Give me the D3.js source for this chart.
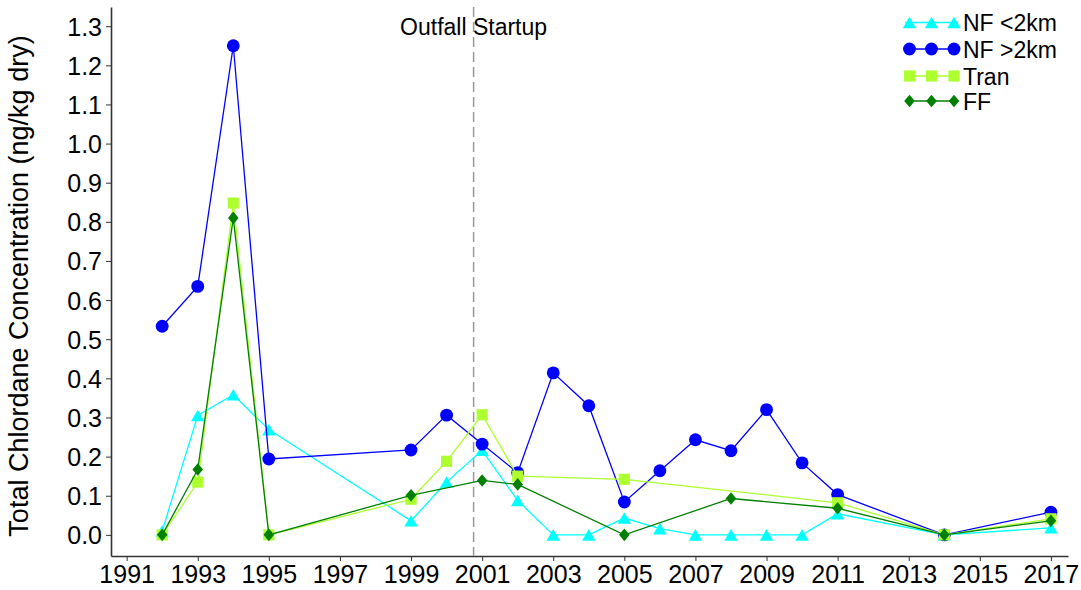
<!DOCTYPE html>
<html>
<head>
<meta charset="utf-8">
<script src="https://cdn.jsdelivr.net/npm/d3@7"></script>
<style>
  html, body { margin: 0; padding: 0; background: #fff; }
  svg { display: block; font-family: "Liberation Sans", Arial, sans-serif; }
</style>
</head>
<body>
<svg id="chart" width="1081" height="590"></svg>
<script>
// ---- data ----
const yearsNear = [1992,1993,1994,1995,1999,2000,2001,2002,2003,2004,2005,2006,2007,2008,2009,2010,2011,2014,2017];
const nfLt2km  = [0.01,0.305,0.358,0.269,0.036,0.135,0.216,0.088,0,0,0.043,0.016,0,0,0,0,0.054,0,0.018];
const nfGt2km  = [0.533,0.635,1.25,0.194,0.217,0.306,0.232,0.159,0.414,0.33,0.084,0.164,0.243,0.215,0.32,0.184,0.103,0,0.058];
const yearsTran = [1992,1993,1994,1995,1999,2000,2001,2002,2005,2011,2014,2017];
const tranVals  = [0,0.135,0.848,0,0.091,0.188,0.307,0.150,0.142,0.082,0,0.041];
const yearsFF = [1992,1993,1994,1995,1999,2001,2002,2005,2008,2011,2014,2017];
const ffVals  = [0,0.167,0.81,0,0.101,0.139,0.129,0,0.093,0.068,0,0.036];
const xTickYears = [1991,1993,1995,1997,1999,2001,2003,2005,2007,2009,2011,2013,2015,2017];
const yTickVals = [0,0.1,0.2,0.3,0.4,0.5,0.6,0.7,0.8,0.9,1.0,1.1,1.2,1.3];
const outfallYear = 2000.76;
const seriesNames = ["NF <2km","NF >2km","Tran","FF"];

const series = [
  {name: seriesNames[0], years: yearsNear, vals: nfLt2km, color: "#00FFFF", shape: "triangle"},
  {name: seriesNames[1], years: yearsNear, vals: nfGt2km, color: "#0000FF", shape: "circle"},
  {name: seriesNames[2], years: yearsTran, vals: tranVals, color: "#ADFF2F", shape: "square"},
  {name: seriesNames[3], years: yearsFF, vals: ffVals, color: "#008000", shape: "diamond"}
];

const svg = d3.select("#chart");
const x = d3.scaleLinear().domain([1990.56, 2017.48]).range([111, 1068]);
const y = d3.scaleLinear().domain([-0.054, 1.349]).range([556, 7]);

// axes
const xAxis = svg.append("g").attr("transform", "translate(0,556)")
  .call(d3.axisBottom(x).tickValues(xTickYears).tickFormat(d3.format("d")).tickSize(5).tickSizeOuter(0));
xAxis.selectAll("text").attr("font-size", 25).attr("fill", "#000").attr("dy", 0).attr("y", 27);
const yAxis = svg.append("g").attr("transform", "translate(111,0)")
  .call(d3.axisLeft(y).tickValues(yTickVals).tickFormat(d3.format(".1f")).tickSize(5).tickSizeOuter(0));
yAxis.selectAll("text").attr("font-size", 25).attr("fill", "#000").attr("x", -9).attr("dy", "0.36em");
svg.selectAll(".domain").attr("stroke", "#333").attr("stroke-width", 1.6);
svg.selectAll(".tick line").attr("stroke", "#333").attr("stroke-width", 1);

// axis title
svg.append("text")
  .attr("transform", `translate(28,286) rotate(-90)`)
  .attr("text-anchor", "middle").attr("font-size", 27).attr("fill", "#000")
  .text("Total Chlordane Concentration (ng/kg dry)");

// outfall line
svg.append("line")
  .attr("x1", x(outfallYear)).attr("x2", x(outfallYear))
  .attr("y1", y.range()[1]).attr("y2", y.range()[0])
  .attr("stroke", "#999").attr("stroke-width", 1.5).attr("stroke-dasharray", "10,5");
svg.append("text")
  .attr("x", x(outfallYear)).attr("y", 35).attr("text-anchor", "middle")
  .attr("font-size", 23).attr("fill", "#000").text("Outfall Startup");

// symbols
function symbolPath(shape) {
  switch (shape) {
    case "triangle": return d3.symbol().type(d3.symbolTriangle).size(78)();
    case "circle": return d3.symbol().type(d3.symbolCircle).size(130)();
    case "square": return d3.symbol().type(d3.symbolSquare).size(125)();
    case "diamond": return "M0,-6.3L5.3,0L0,6.3L-5.3,0Z";
  }
}
const triShift = 1.9;

const line = d3.line().x(d => x(d[0])).y(d => y(d[1]));
series.forEach(s => {
  const pts = s.years.map((yr, i) => [yr, s.vals[i]]);
  const g = svg.append("g");
  g.append("path").attr("d", line(pts)).attr("fill", "none")
    .attr("stroke", s.color).attr("stroke-width", 1.3);
  g.selectAll("path.m").data(pts).enter().append("path").attr("class", "m")
    .attr("d", symbolPath(s.shape))
    .attr("transform", d => `translate(${x(d[0])},${y(d[1]) + (s.shape === "triangle" ? triShift : 0)})`)
    .attr("fill", s.color);
});

// legend
const legendYs = [22.5, 49, 76, 101];
series.forEach((s, i) => {
  const g = svg.append("g").attr("transform", `translate(0,${legendYs[i]})`);
  g.append("line").attr("x1", 905).attr("x2", 958).attr("y1", 0).attr("y2", 0)
    .attr("stroke", s.color).attr("stroke-width", 1.3);
  [909.5, 931.5, 954].forEach(mx => {
    g.append("path").attr("d", symbolPath(s.shape))
      .attr("transform", `translate(${mx},${s.shape === "triangle" ? triShift : 0})`).attr("fill", s.color);
  });
  g.append("text").attr("x", 963).attr("y", 0).attr("dy", "0.38em")
    .attr("font-size", 23).attr("fill", "#000").text(s.name);
});
</script>
</body>
</html>
